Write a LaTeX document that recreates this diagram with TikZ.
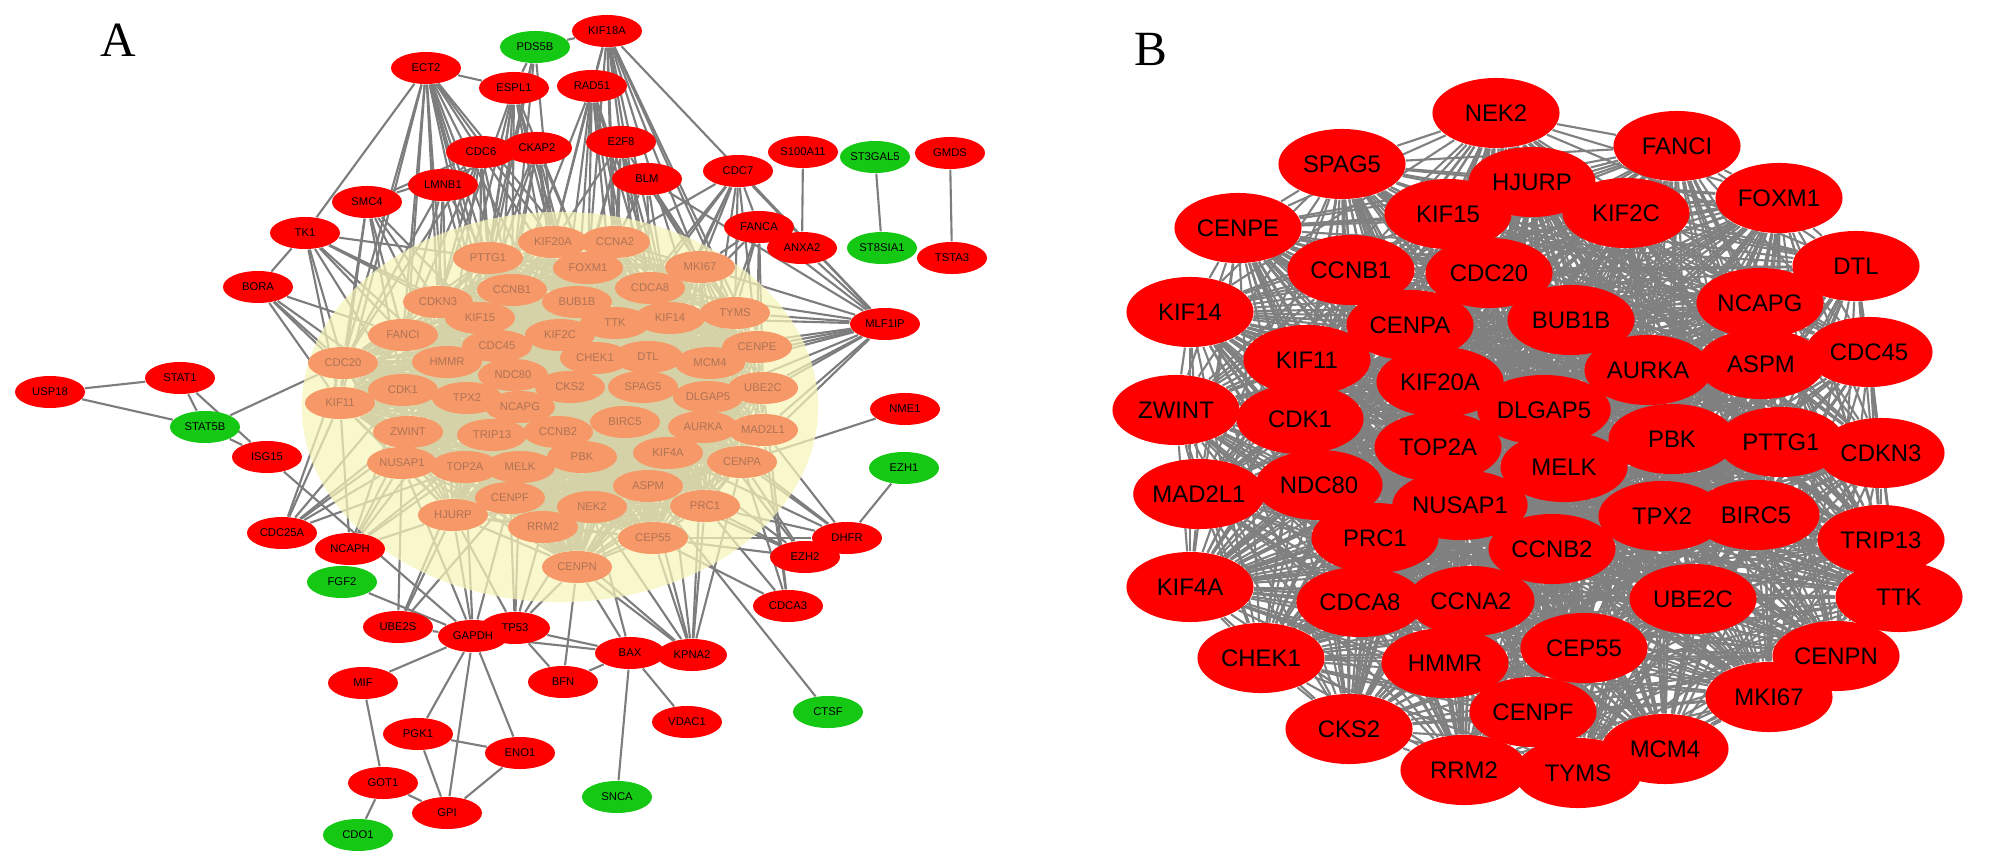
\documentclass[tikz,border=0pt]{standalone}
\usepackage{fontspec}
\setmainfont{Liberation Sans}
\newfontfamily\serifA{Liberation Serif}
\usetikzlibrary{shapes.geometric}
\pgfdeclarelayer{edges}
\pgfdeclarelayer{haze}
\pgfsetlayers{edges,haze,main}
\definecolor{nodered}{RGB}{255,0,0}
\definecolor{nodegreen}{RGB}{20,200,20}
\definecolor{salmon}{RGB}{247,152,104}
\definecolor{salmontext}{RGB}{175,115,85}
\definecolor{edgegray}{RGB}{125,125,125}
\definecolor{bgray}{RGB}{128,128,128}
\definecolor{hazeyellow}{RGB}{247,244,185}
\tikzset{
 anode/.style={ellipse, minimum width=0.7cm, minimum height=0.32cm, inner sep=0pt, font=\fontsize{3.2}{3.6}\selectfont},
 ared/.style={anode, fill=nodered, text=black},
 agreen/.style={anode, fill=nodegreen, text=black},
 acore/.style={anode, fill=salmon, text=salmontext},
 bnode/.style={ellipse, minimum width=1.27cm, minimum height=0.70cm, inner sep=0pt, fill=nodered, text=black, font=\fontsize{6.8}{8}\selectfont},
 aedge/.style={draw=edgegray, line width=0.6pt},
 bedge/.style={draw=bgray, line width=0.6pt},
 hazestyle/.style={ellipse, inner sep=0pt, fill=hazeyellow, fill opacity=0.72},
 panellabel/.style={font=\serifA\fontsize{14}{16}\selectfont}
}
\begin{document}
\begin{tikzpicture}[x=0.01cm,y=-0.01cm]
\useasboundingbox (0,0) rectangle (2008,867);
\node[panellabel] (labA) at (118,40) {A};
\node[panellabel] (labB) at (1151,49) {B};

% ---------- panel A: core cluster ----------
\foreach \n/\x/\y/\t in {
1/553/242/KIF20A, 2/615/242/CCNA2, 3/488/258/PTTG1, 4/588/268/FOXM1, 5/700/267/MKI67,
6/512/290/CCNB1, 7/650/288/CDCA8, 8/577/302/BUB1B, 9/438/302/CDKN3, 10/480/318/KIF15,
11/615/323/TTK, 12/670/318/KIF14, 13/735/313/TYMS, 14/560/335/KIF2C, 15/403/335/FANCI,
16/497/346/CDC45, 17/757/347/CENPE, 18/595/358/CHEK1, 19/648/357/DTL, 20/710/363/MCM4,
21/343/363/CDC20, 22/447/362/HMMR, 23/513/375/NDC80, 24/570/387/CKS2, 25/643/387/SPAG5,
26/763/388/UBE2C, 27/708/397/DLGAP5, 28/403/390/CDK1, 29/467/398/TPX2, 30/340/403/KIF11,
31/520/407/NCAPG, 32/408/432/ZWINT, 33/492/435/TRIP13, 34/558/432/CCNB2, 35/625/422/BIRC5,
36/703/427/AURKA, 37/763/430/MAD2L1, 38/402/463/NUSAP1, 39/465/467/TOP2A, 40/520/467/MELK,
41/582/457/PBK, 42/668/453/KIF4A, 43/742/462/CENPA, 44/510/498/CENPF, 45/592/507/NEK2,
46/648/486/ASPM, 47/705/506/PRC1, 48/453/515/HJURP, 49/543/527/RRM2, 50/653/538/CEP55,
51/577/567/CENPN}
  \node[acore] (c\n) at (\x,\y) {\t};

% ---------- panel A: peripheral nodes ----------
\foreach \nm/\x/\y/\s in {
ECT2/426/68/ared, ESPL1/514/88/ared, RAD51/592/86/ared, PDS5B/535/47/agreen, KIF18A/607/31/ared,
CKAP2/537/148/ared, CDC6/481/152/ared, E2F8/621/142/ared, BLM/647/179/ared,
LMNB1/443/185/ared, SMC4/367/202/ared, TK1/305/233/ared, BORA/258/287/ared,
CDC7/738/171/ared, FANCA/759/227/ared, S100A11/803/152/ared, ANXA2/802/248/ared,
ST3GAL5/875/157/agreen, ST8SIA1/882/248/agreen, GMDS/950/153/ared, TSTA3/952/258/ared,
MLF1IP/885/324/ared, NME1/905/409/ared, EZH1/904/468/agreen, DHFR/847/538/ared,
EZH2/805/557/ared, CDCA3/788/606/ared, CTSF/828/712/agreen, KPNA2/692/655/ared,
VDAC1/687/722/ared, BAX/630/653/ared, SNCA/617/797/agreen, BFN/563/682/ared,
TP53/515/628/ared, GAPDH/473/636/ared, UBE2S/398/627/ared, MIF/363/683/ared,
PGK1/418/734/ared, ENO1/520/753/ared, GOT1/383/783/ared, GPI/447/813/ared,
CDO1/358/835/agreen, FGF2/342/582/agreen, NCAPH/350/549/ared, CDC25A/282/533/ared,
ISG15/267/457/ared, STAT5B/205/427/agreen, STAT1/180/378/ared, USP18/50/392/ared}
  \node[\s] (\nm) at (\x,\y) {\nm};

% ---------- panel B nodes ----------
\foreach \n/\x/\y/\t in {
1/1496/113/NEK2, 2/1677/146/FANCI, 3/1342/164/SPAG5, 4/1532/182/HJURP, 5/1779/198/FOXM1,
6/1238/228/CENPE, 7/1448/214/KIF15, 8/1626/213/KIF2C, 9/1856/266/DTL, 10/1351/270/CCNB1,
11/1489/273/CDC20, 12/1760/303/NCAPG, 13/1190/312/KIF14, 14/1410/325/CENPA, 15/1571/320/BUB1B,
16/1869/352/CDC45, 17/1307/360/KIF11, 18/1648/370/AURKA, 19/1761/364/ASPM, 20/1176/410/ZWINT,
21/1440/382/KIF20A, 22/1544/410/DLGAP5, 23/1300/419/CDK1, 24/1781/442/PTTG1, 25/1672/439/PBK,
26/1881/453/CDKN3, 27/1438/447/TOP2A, 28/1564/467/MELK, 29/1199/494/MAD2L1, 30/1319/485/NDC80,
31/1460/505/NUSAP1, 32/1881/540/TRIP13, 33/1662/516/TPX2, 34/1756/515/BIRC5, 35/1375/538/PRC1,
36/1552/549/CCNB2, 37/1190/587/KIF4A, 38/1360/602/CDCA8, 39/1471/601/CCNA2, 40/1693/599/UBE2C,
41/1899/597/TTK, 42/1261/658/CHEK1, 43/1445/663/HMMR, 44/1584/648/CEP55, 45/1836/656/CENPN,
46/1533/712/CENPF, 47/1769/697/MKI67, 48/1349/729/CKS2, 49/1464/770/RRM2, 50/1665/749/MCM4,
51/1578/773/TYMS}
  \node[bnode] (b\n) at (\x,\y) {\t};

% ---------- haze ----------
\begin{pgfonlayer}{haze}
\node[hazestyle, minimum width=5.16cm, minimum height=3.9cm] (haze) at (560,407) {};
\end{pgfonlayer}

% ---------- edges ----------
\begin{pgfonlayer}{edges}
% core cluster all pairs
\foreach \i in {1,...,50}{
  \pgfmathtruncatemacro{\ip}{\i+1}
  \foreach \j in {\ip,...,51}{ \draw[aedge] (c\i) -- (c\j); }
}
% panel B all pairs
\foreach \i in {1,...,50}{
  \pgfmathtruncatemacro{\ip}{\i+1}
  \foreach \j in {\ip,...,51}{ \draw[bedge] (b\i) -- (b\j); }
}
% hubs to cluster
\foreach \k in {1,3,4,6,8,9,10,14,15,16,21,22,23,28,30} \draw[aedge] (ECT2) -- (c\k);
\foreach \k in {1,3,4,6,8,9,10,14,16,22} \draw[aedge] (ESPL1) -- (c\k);
\foreach \k in {1,2,4,6,7,8,11,12,14,19} \draw[aedge] (RAD51) -- (c\k);
\foreach \k in {1,2,4,5,7,11,12,13,17,19,20} \draw[aedge] (KIF18A) -- (c\k);
\foreach \k in {1,3,6,10} \draw[aedge] (PDS5B) -- (c\k);
\foreach \k in {3,6,9,10,15,16,21,22} \draw[aedge] (CDC6) -- (c\k);
\foreach \k in {1,3,4,6,8,10,14,16} \draw[aedge] (CKAP2) -- (c\k);
\foreach \k in {1,2,4,5,7,8,11,12} \draw[aedge] (E2F8) -- (c\k);
\foreach \k in {2,5,7,12,13,17} \draw[aedge] (BLM) -- (c\k);
\foreach \k in {3,9,10,15,21,22} \draw[aedge] (LMNB1) -- (c\k);
\foreach \k in {9,10,15,21,22,28,30} \draw[aedge] (SMC4) -- (c\k);
\foreach \k in {3,9,10,15,21,22,28,30} \draw[aedge] (TK1) -- (c\k);
\foreach \k in {15,21,28,30,32} \draw[aedge] (BORA) -- (c\k);
\foreach \k in {2,5,7,11,12,13,17,19,20} \draw[aedge] (CDC7) -- (c\k);
\foreach \k in {5,12,13,17,20,26} \draw[aedge] (FANCA) -- (c\k);
\foreach \k in {5,7,12,13,17,19,20,25,26,27,36,37,43} \draw[aedge] (MLF1IP) -- (c\k);
\foreach \k in {21,28,29,30,32,38,39} \draw[aedge] (CDC25A) -- (c\k);
\foreach \k in {28,29,30,32,33,38,39,48} \draw[aedge] (NCAPH) -- (c\k);
\foreach \k in {38,39,44,48} \draw[aedge] (UBE2S) -- (c\k);
\foreach \k in {38,39,44,48} \draw[aedge] (GAPDH) -- (c\k);
\foreach \k in {40,44,45,48,49,51} \draw[aedge] (TP53) -- (c\k);
\foreach \k in {51} \draw[aedge] (BFN) -- (c\k);
\foreach \k in {45,51} \draw[aedge] (BAX) -- (c\k);
\foreach \k in {36,42,43,45,46,47,49,50,51} \draw[aedge] (KPNA2) -- (c\k);
\foreach \k in {26,37,43,47,50} \draw[aedge] (CDCA3) -- (c\k);
\foreach \k in {36,37,42,43,47,50} \draw[aedge] (DHFR) -- (c\k);
\foreach \k in {36,42,43,46,47,50} \draw[aedge] (EZH2) -- (c\k);
\draw[aedge] (CTSF) -- (c46);
\draw[aedge] (NME1) -- (c43);
\draw[aedge] (STAT5B) -- (c21);
% peripheral links
\foreach \u/\v in {USP18/STAT1, USP18/STAT5B, STAT1/STAT5B, STAT1/ISG15, STAT5B/ISG15,
  ISG15/GAPDH, S100A11/ANXA2, ST3GAL5/ST8SIA1, GMDS/TSTA3, EZH1/DHFR,
  MIF/GOT1, GOT1/CDO1, GOT1/GPI, PGK1/GPI, PGK1/ENO1, ENO1/GPI,
  GAPDH/MIF, GAPDH/PGK1, GAPDH/GPI, GAPDH/ENO1, GAPDH/TP53, GAPDH/BAX, TP53/BAX,
  TP53/BFN, BFN/BAX, BAX/SNCA, BAX/VDAC1, UBE2S/GAPDH, FGF2/GAPDH, KPNA2/BAX,
  ECT2/ESPL1, PDS5B/KIF18A, PDS5B/ESPL1, KIF18A/RAD51, KIF18A/MLF1IP, CDC7/MLF1IP,
  BLM/MLF1IP, FANCA/MLF1IP, ANXA2/MLF1IP, TK1/BORA, TK1/ECT2, SMC4/CDC6, SMC4/CKAP2,
  LMNB1/CDC6, CDC7/FANCA}
  \draw[aedge] (\u) -- (\v);
\end{pgfonlayer}
\end{tikzpicture}
\end{document}
